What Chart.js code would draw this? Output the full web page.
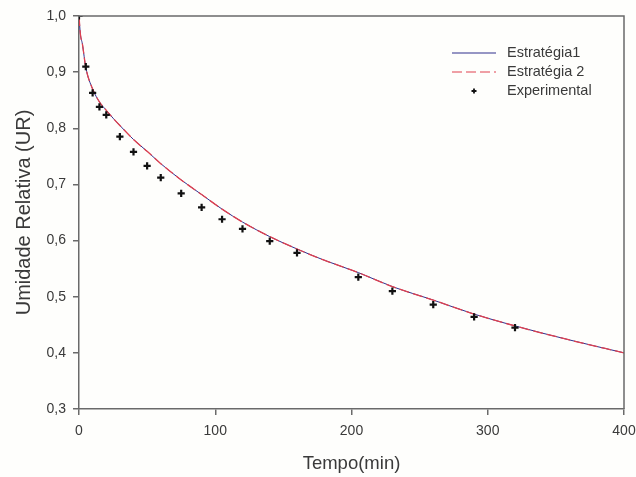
<!DOCTYPE html>
<html><head><meta charset="utf-8">
<script src="https://cdn.jsdelivr.net/npm/chart.js@4"></script>
<style>html,body{margin:0;padding:0;background:#fefefc}</style>
</head><body>
<canvas id="c" width="636" height="477" style="display:block"></canvas>
<script>
// Model curves
const curveTime   = [0, 1, 2.5, 5, 10, 15, 20, 25, 30, 40, 50, 60, 75, 90, 105, 120, 140, 160, 180, 205, 230, 260, 290, 320, 360, 400];
const curveStrat1 = [1.0, 0.968, 0.950, 0.908, 0.870, 0.847, 0.832, 0.818, 0.805, 0.780, 0.759, 0.737, 0.708, 0.682, 0.656, 0.633, 0.607, 0.585, 0.565, 0.543, 0.518, 0.494, 0.469, 0.448, 0.423, 0.400];
const curveStrat2 = [1.0, 0.968, 0.950, 0.908, 0.870, 0.847, 0.832, 0.818, 0.805, 0.780, 0.759, 0.737, 0.708, 0.682, 0.656, 0.633, 0.607, 0.585, 0.565, 0.543, 0.518, 0.494, 0.469, 0.448, 0.423, 0.400];
// Experimental points
const expTime = [0, 5, 10, 15, 20, 30, 40, 50, 60, 75, 90, 105, 120, 140, 160, 205, 230, 260, 290, 320];
const expUR   = [1.0, 0.910, 0.863, 0.838, 0.824, 0.785, 0.758, 0.733, 0.712, 0.684, 0.659, 0.638, 0.621, 0.599, 0.578, 0.535, 0.510, 0.486, 0.464, 0.445];
const seriesLabels = ['Estratégia1', 'Estratégia 2', 'Experimental'];
const xTicks = [0, 100, 200, 300, 400];
const yTicks = [0.3, 0.4, 0.5, 0.6, 0.7, 0.8, 0.9, 1.0];
const xTitle = 'Tempo(min)';
const yTitle = 'Umidade Relativa (UR)';

const toXY = (xs, ys) => xs.map((x, i) => ({x: x, y: ys[i]}));
const FONT = 'Arial, "Liberation Sans", sans-serif';
const AXIS = '#6a6a6a';
const TXT = '#3a3a3a';

const framePlugin = {
  id: 'frame',
  afterDatasetsDraw(chart) {
    const {ctx, chartArea: a} = chart;
    ctx.save();
    ctx.strokeStyle = AXIS;
    ctx.lineWidth = 1.5;
    ctx.beginPath();
    ctx.moveTo(a.left, a.top); ctx.lineTo(a.right, a.top); ctx.lineTo(a.right, a.bottom);
    ctx.stroke();
    ctx.restore();
  }
};

const legendPlugin = {
  id: 'customLegend',
  afterDraw(chart) {
    const {ctx, chartArea: a} = chart;
    const x0 = a.right - 172, x1 = a.right - 128, tx = a.right - 117;
    const rows = [a.top + 37, a.top + 56, a.top + 75];
    ctx.save();
    ctx.font = '14.5px ' + FONT;
    ctx.textBaseline = 'middle';
    chart.data.datasets.forEach((ds, i) => {
      const y = rows[i];
      ctx.fillStyle = TXT;
      ctx.fillText(ds.label, tx, y);
      if (ds.showLine !== false) {
        ctx.strokeStyle = ds.borderColor;
        ctx.lineWidth = 1.2;
        ctx.setLineDash(ds.borderDash || []);
        ctx.beginPath(); ctx.moveTo(x0, y); ctx.lineTo(x1, y); ctx.stroke();
        ctx.setLineDash([]);
      } else {
        const cx = (x0 + x1) / 2;
        ctx.strokeStyle = '#111';
        ctx.lineWidth = 1.8;
        ctx.beginPath();
        ctx.moveTo(cx - 2.5, y); ctx.lineTo(cx + 2.5, y);
        ctx.moveTo(cx, y - 2.5); ctx.lineTo(cx, y + 2.5);
        ctx.stroke();
      }
    });
    ctx.restore();
  }
};

new Chart(document.getElementById('c'), {
  type: 'scatter',
  data: {
    datasets: [
      { label: seriesLabels[0], data: toXY(curveTime, curveStrat1), showLine: true,
        borderColor: '#2e2e8c', borderWidth: 1, pointRadius: 0, cubicInterpolationMode: 'monotone', order: 3 },
      { label: seriesLabels[1], data: toXY(curveTime, curveStrat2), showLine: true,
        borderColor: '#e0404f', borderWidth: 1.3, borderDash: [10, 4], pointRadius: 0, cubicInterpolationMode: 'monotone', order: 2 },
      { label: seriesLabels[2], data: toXY(expTime, expUR), showLine: false,
        pointStyle: 'cross', pointRadius: 3.6, borderColor: '#111', backgroundColor: '#111', pointBorderWidth: 2.2, borderWidth: 2.2, order: 1 }
    ]
  },
  options: {
    responsive: false,
    animation: false,
    devicePixelRatio: 1,
    layout: { padding: { top: 16, right: 0, left: 0, bottom: 0 } },
    plugins: { legend: { display: false }, tooltip: { enabled: false } },
    scales: {
      x: {
        type: 'linear', min: 0, max: 400,
        afterBuildTicks: s => { s.ticks = xTicks.map(v => ({value: v})); },
        afterFit: s => { s.height = 68; s.paddingRight = 12; s.paddingLeft = 0; },
        grid: { drawOnChartArea: false, drawTicks: true, tickLength: 6, color: AXIS, lineWidth: 1.5 },
        border: { color: AXIS, width: 1.5 },
        ticks: { color: TXT, font: { family: FONT, size: 14 }, padding: 8, maxRotation: 0,
                 callback: v => String(v) },
        title: { display: true, text: xTitle, color: TXT, font: { family: FONT, size: 18.5 }, padding: { top: 0, bottom: 2 } }
      },
      y: {
        type: 'linear', min: 0.3, max: 1.0,
        afterBuildTicks: s => { s.ticks = yTicks.map(v => ({value: v})); },
        afterFit: s => { s.width = 79; },
        grid: { drawOnChartArea: false, drawTicks: true, tickLength: 6, color: AXIS, lineWidth: 1.5 },
        border: { color: AXIS, width: 1.5 },
        ticks: { color: TXT, font: { family: FONT, size: 14 }, padding: 7,
                 callback: v => v.toFixed(1).replace('.', ',') },
        title: { display: true, text: yTitle, color: TXT, font: { family: FONT, size: 20 }, padding: { top: 12, bottom: 0 } }
      }
    }
  },
  plugins: [framePlugin, legendPlugin]
});
</script>
</body></html>
